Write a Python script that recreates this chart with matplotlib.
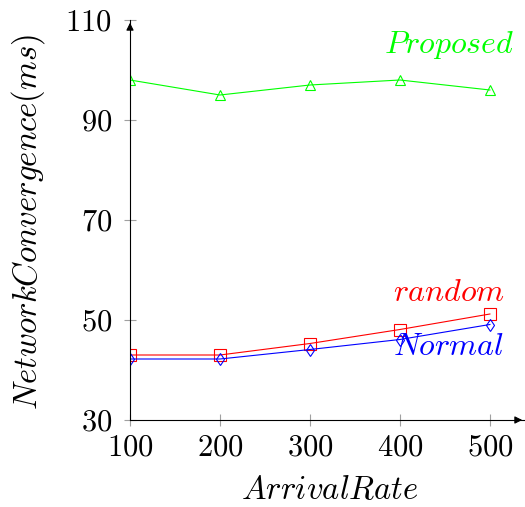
import matplotlib.pyplot as plt

plt.rcParams['mathtext.fontset'] = 'cm'
plt.rcParams['font.family'] = 'serif'
plt.rcParams['font.serif'] = ['cmr10', 'DejaVu Serif']
plt.rcParams['axes.formatter.use_mathtext'] = True

arrival_rate = [100, 200, 300, 400, 500]
proposed = [98, 95, 97, 98, 96]
random_ = [43, 43, 45.3, 48.1, 51.2]
normal = [42.2, 42.2, 44.1, 46.1, 49.1]
y_ticks = [30, 50, 70, 90, 110]

W, H = 525, 507
fig = plt.figure(figsize=(W / 100, H / 100), dpi=100)
ax = fig.add_axes([130 / W, 1 - 420 / H, 395 / W, 400 / H])

ax.plot(arrival_rate, proposed, color='#00ff00', lw=0.8, marker='^',
        markersize=7.5, markerfacecolor='none', markeredgewidth=0.8)
ax.plot(arrival_rate, random_, color='red', lw=0.8, marker='s',
        markersize=8.5, markerfacecolor='none', markeredgewidth=0.8)
ax.plot(arrival_rate, normal, color='blue', lw=0.8, marker='d',
        markersize=6.5, markerfacecolor='none', markeredgewidth=0.8)

# series names written next to the lines
ax.text(455, 105, r'$Proposed$', color='#00ff00', fontsize=23, ha='center', va='center')
ax.text(454, 55.4, r'$random$', color='red', fontsize=23, ha='center', va='center')
ax.text(454, 44.6, r'$Normal$', color='blue', fontsize=23, ha='center', va='center')

ax.set_xlim(100, 539)
ax.set_ylim(30, 110)
ax.set_xticks(arrival_rate)
ax.set_yticks(y_ticks)
ax.set_xticklabels(['$%d$' % v for v in arrival_rate])
ax.set_yticklabels(['$%d$' % v for v in y_ticks])
ax.tick_params(direction='inout', length=8, color='#a0a0a0', width=0.8,
               labelsize=22)
ax.tick_params(axis='x', pad=6)
ax.tick_params(axis='y', pad=9)

for s in ['top', 'right']:
    ax.spines[s].set_visible(False)
for s in ['left', 'bottom']:
    ax.spines[s].set_linewidth(0.8)

ax.annotate('', xy=(1.0, 0), xytext=(0.97, 0), xycoords='axes fraction',
            arrowprops=dict(arrowstyle='-|>', color='black', lw=0.8,
                            mutation_scale=11))
ax.annotate('', xy=(0, 1.0), xytext=(0, 0.97), xycoords='axes fraction',
            arrowprops=dict(arrowstyle='-|>', color='black', lw=0.8,
                            mutation_scale=11))

fig.text(330 / W, 1 - 490 / H, r'$ArrivalRate$', fontsize=23.5,
         ha='center', va='center')
fig.text(28 / W, 1 - 222 / H, r'$NetworkConvergence(ms)$', fontsize=23.5,
         ha='center', va='center', rotation=90)

fig.savefig('out.png', dpi=100)
